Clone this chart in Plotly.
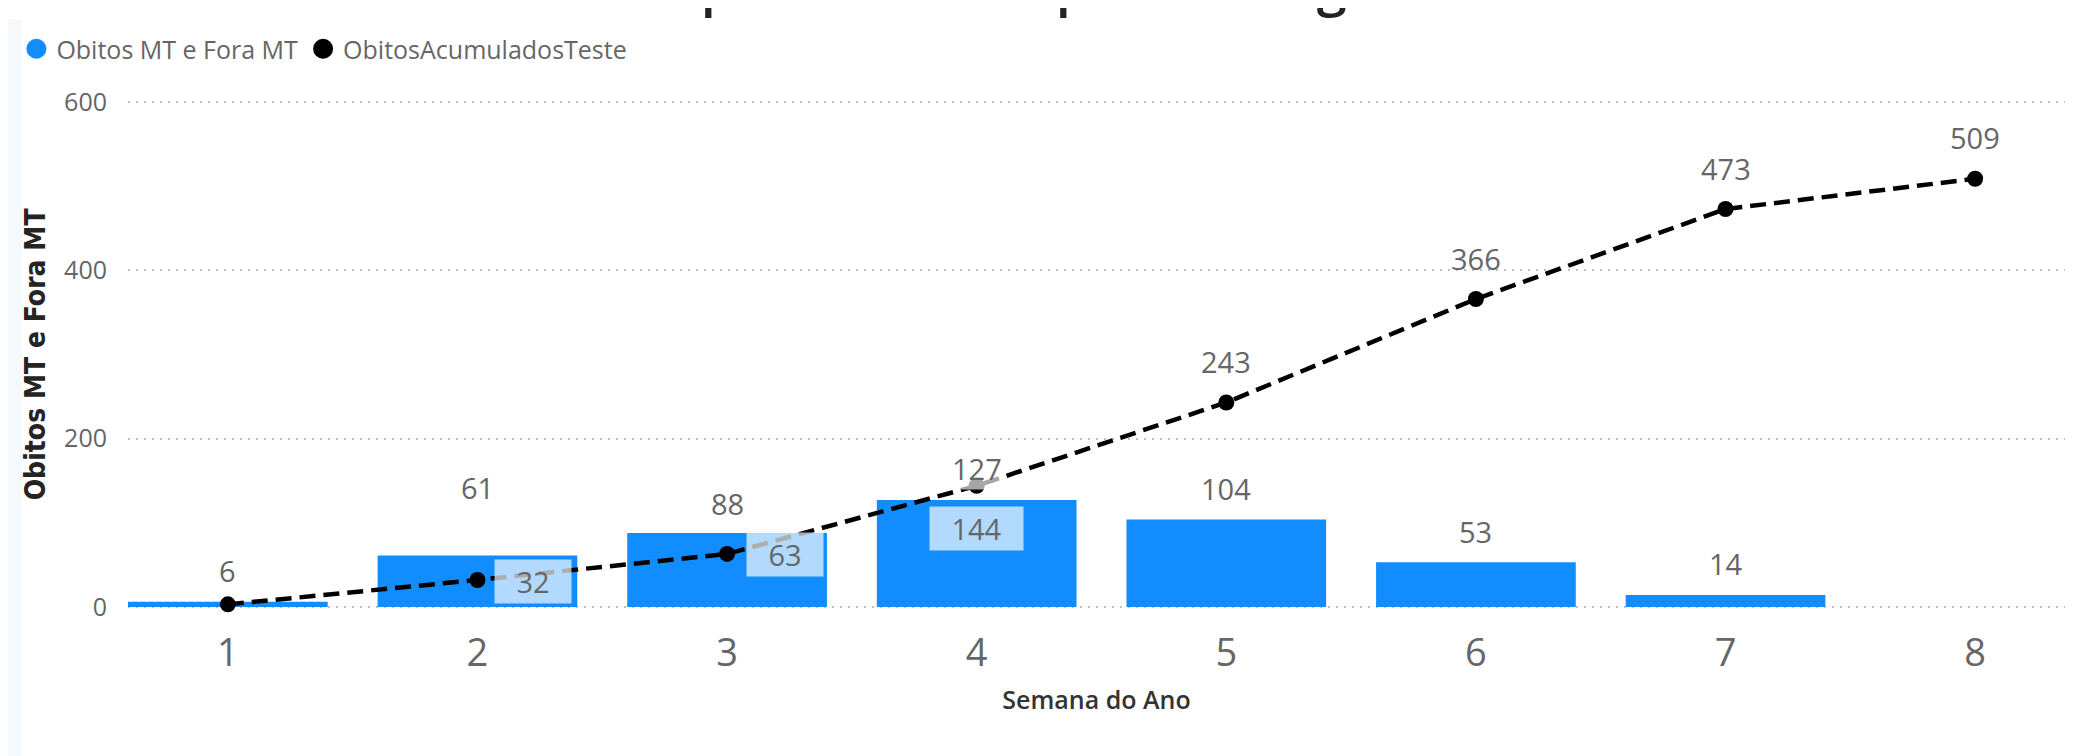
import plotly.graph_objects as go

# ---- data ----
weeks = [1, 2, 3, 4, 5, 6, 7, 8]
bar_weeks = [1, 2, 3, 4, 5, 6, 7]
obitos = [6, 61, 88, 127, 104, 53, 14]
acumulados = [3, 32, 63, 144, 243, 366, 473, 509]
acum_labels = ["", "32", "63", "144", "243", "366", "473", "509"]
y_ticks = [0, 200, 400, 600]
bar_name = "Obitos MT e Fora MT"
line_name = "ObitosAcumuladosTeste"
title_text = "Óbitos por semana epidemiológica"

# ---- styles ----
BLUE = "#118DFF"
GRAY = "#666666"
FONT = "Open Sans, Noto Sans, sans-serif"
W, H = 2095, 756
ML, MR, MT, MB = 120, 38, 82, 155
PW, PH = W - ML - MR, H - MT - MB
bar_label_yshift = [31, 68, 29, 32, 31, 31, 32]
line_label_xshift = [0, 56, 58, 0, 0, 0, 0, 0]
line_label_yshift = [0, -2, -1, -43, 41, 41, 41, 41]
line_label_boxed = [False, True, True, True, False, False, False, False]

fig = go.Figure()
fig.add_trace(go.Bar(x=bar_weeks, y=obitos, name=bar_name, marker=dict(color=BLUE, line=dict(width=0)),
                     width=0.8, showlegend=False, hoverinfo="skip"))
fig.add_trace(go.Scatter(x=weeks, y=acumulados, name=line_name, mode="lines+markers",
                         line=dict(color="black", width=4.5, dash="16px,8px"),
                         marker=dict(color="black", size=16), showlegend=False, cliponaxis=False,
                         hoverinfo="skip"))
# legend entries (circle symbols)
fig.add_trace(go.Scatter(x=[None], y=[None], mode="markers", name=bar_name,
                         marker=dict(color=BLUE, size=16, line=dict(color=BLUE, width=4))))
fig.add_trace(go.Scatter(x=[None], y=[None], mode="markers", name=line_name,
                         marker=dict(color="black", size=16, line=dict(color="black", width=4))))

annotations = []
for x, v, ys in zip(bar_weeks, obitos, bar_label_yshift):
    annotations.append(dict(x=x, y=v, text=str(v), showarrow=False, yshift=ys,
                            xanchor="center", yanchor="middle",
                            font=dict(family=FONT, size=29, color=GRAY),
                            bgcolor="rgba(255,255,255,0.65)"))
for x, v, t, xs, ys, boxed in zip(weeks, acumulados, acum_labels, line_label_xshift,
                                  line_label_yshift, line_label_boxed):
    if not t:
        continue
    a = dict(x=x, y=v, text=t, showarrow=False, xshift=xs, yshift=ys,
             xanchor="center", yanchor="middle",
             font=dict(family=FONT, size=29, color=GRAY))
    if boxed:
        a.update(bgcolor="rgba(255,255,255,0.68)", borderpad=6,
                 width=(30 + 17 * len(t)), height=31)
    annotations.append(a)
# title, cut off at the top edge as in the reference
annotations.append(dict(xref="paper", yref="paper", x=(505 - ML) / PW, y=1 + (MT + 36) / PH,
                        text=title_text, showarrow=False, xanchor="left", yanchor="middle",
                        font=dict(family=FONT, size=54, color="#252423", weight=600)))

fig.update_layout(
    width=W, height=H,
    margin=dict(l=ML, r=MR, t=MT, b=MB),
    paper_bgcolor="white", plot_bgcolor="white",
    font=dict(family=FONT, color=GRAY),
    bargap=0.2,
    annotations=annotations,
    showlegend=True,
    legend=dict(orientation="h", xref="container", yref="container", x=0.004, y=1 - 41 / H,
                xanchor="left", yanchor="middle", font=dict(family=FONT, size=25, color=GRAY),
                itemwidth=30, tracegroupgap=0, bgcolor="rgba(0,0,0,0)"),
    xaxis=dict(range=[0.6, 8.36], tickvals=weeks, ticktext=[str(w) for w in weeks],
               showgrid=False, zeroline=False, showline=False, ticks="",
               ticklabelstandoff=18,
               tickfont=dict(family=FONT, size=38, color=GRAY),
               title=dict(text="Semana do Ano", standoff=15,
                          font=dict(family=FONT, size=25, color="#333333", weight=600))),
    yaxis=dict(range=[-2.5, 603], tickvals=y_ticks, showgrid=True, gridcolor="#BFBFBF",
               griddash="2px,6px", gridwidth=1.8, zeroline=False, showline=False, ticks="",
               ticklabelstandoff=20,
               tickfont=dict(family=FONT, size=25, color=GRAY),
               title=dict(text=bar_name, standoff=10,
                          font=dict(family="Liberation Sans Narrow, DejaVu Sans Condensed, DejaVu Sans",
                                    size=28, color="#252423", weight="bold"))),
    shapes=[dict(type="rect", xref="paper", yref="paper", x0=-ML / PW, x1=(14 - ML) / PW,
                 y0=-MB / PH, y1=1 + MT / PH, fillcolor="#F6F9FB", line=dict(width=0),
                 layer="below")],
)

fig.write_html("out.html")
